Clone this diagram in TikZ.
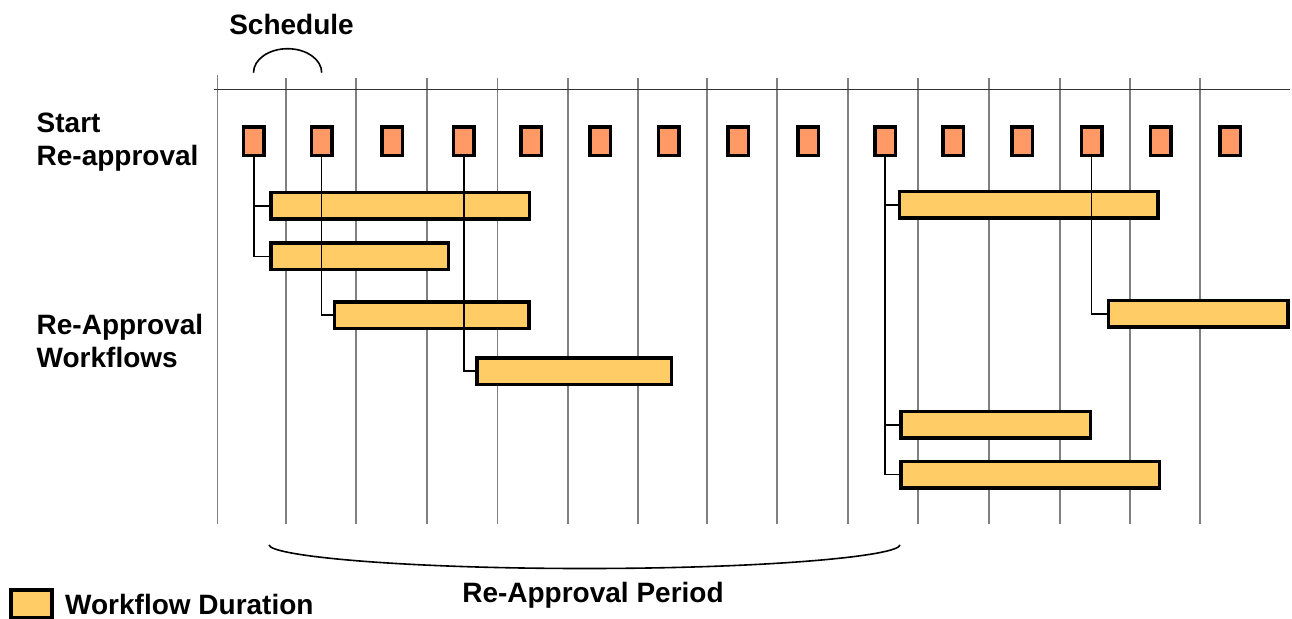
\documentclass[tikz,border=0pt]{standalone}
\usepackage{fontspec}
\setmainfont{Liberation Sans}
\begin{document}
\begin{tikzpicture}[x=1pt,y=-1pt,
  lbl/.style={font=\fontsize{28}{33}\selectfont\bfseries, inner sep=0pt},
  gridline/.style={draw={rgb,255:red,128;green,128;blue,128}, line width=1.1pt},
  axisline/.style={draw={rgb,255:red,50;green,50;blue,50}, line width=1.2pt},
  startbox/.style={draw=black, line width=3.5pt, fill={rgb,255:red,255;green,153;blue,102},
    minimum width=20.5pt, minimum height=28.5pt, inner sep=0pt},
  durbar/.style={draw=black, line width=3.5pt, fill={rgb,255:red,255;green,204;blue,102},
    minimum height=26.5pt, inner sep=0pt},
  link/.style={draw=black, line width=1.6pt},
  curly/.style={draw=black, line width=1.6pt}]

\useasboundingbox (0,0) rectangle (1292,618);

% time grid
\draw[gridline] (217.5,75) -- (217.5,524);
\foreach \gx in {286,356,427,497.5,568,638,707,777,848,918,989,1060,1130,1200}
  \draw[gridline] (\gx,78) -- (\gx,524);
\draw[axisline] (214,89.7) -- (1290,89.7);

% scheduled start points
\foreach \i/\sx in {1/253.7,2/321.5,3/392,4/463.7,5/531,6/600,7/668.5,8/738,9/808,10/885,11/953,12/1022,13/1091.5,14/1160.7,15/1230}
  \node[startbox] (s\i) at (\sx,141) {};

% workflow durations
\node[durbar, minimum width=258.5pt] (b1) at (400,205.7) {};
\node[durbar, minimum width=177.5pt] (b2) at (359.5,256.3) {};
\node[durbar, minimum width=194.5pt] (b3) at (431.9,315) {};
\node[durbar, minimum width=194.5pt] (b4) at (574,371) {};
\node[durbar, minimum width=258.5pt] (b5) at (1028.9,204.7) {};
\node[durbar, minimum width=179.5pt] (b6) at (1198,313.7) {};
\node[durbar, minimum width=189.5pt] (b7) at (995.7,424.7) {};
\node[durbar, minimum width=258.5pt] (b8) at (1030,474.5) {};

% start point to workflow links
\draw[link] (s1.south) |- (b1.west);
\draw[link] (s1.south) |- (b2.west);
\draw[link] (s2.south) |- (b3.west);
\draw[link] (s4.south) |- (b4.west);
\draw[link] (s10.south) |- (b5.west);
\draw[link] (s10.south) |- (b7.west);
\draw[link] (s10.south) |- (b8.west);
\draw[link] (s13.south) |- (b6.west);

% schedule interval arc
\draw[curly] (253.5,72.7) arc[start angle=180, end angle=360, x radius=34.1, y radius=24];
\node[lbl, anchor=base] (sched) at (291.5,34.3) {Schedule};

% re-approval period brace
\coordinate (pl) at (269,545);
\coordinate (pm) at (585,568.5);
\coordinate (pr) at (900,545);
\draw[curly] (pl) .. controls (271,556) and (400,568.5) .. (pm)
  .. controls (770,568.5) and (898,556) .. (pr);
\node[lbl, anchor=base] (period) at (593,602) {Re-Approval Period};

% row labels
\node[lbl, anchor=north west, align=left] (startlbl) at (36.5,112.8) {Start\\Re-approval};
\node[lbl, anchor=north west, align=left] (wflbl) at (36.5,313.6) {Re-Approval\\Workflows};

% legend
\node[durbar, minimum width=41pt, minimum height=27.5pt] (legbox) at (31.7,603.5) {};
\node[lbl, anchor=base west] (legtext) at (65,614) {Workflow Duration};
\end{tikzpicture}
\end{document}
